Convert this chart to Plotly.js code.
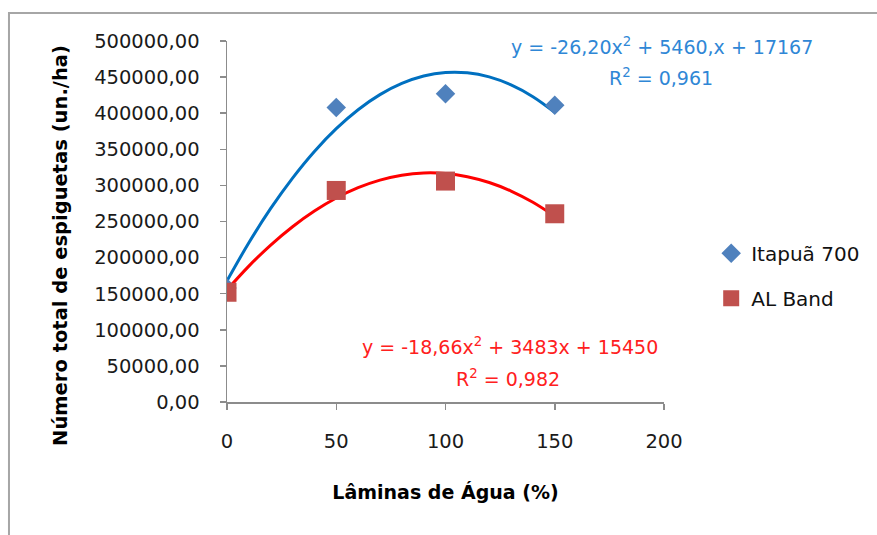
<!DOCTYPE html>
<html>
<head>
<meta charset="utf-8">
<script src="https://cdn.plot.ly/plotly-3.0.1.min.js"></script>
<style>
html,body{margin:0;padding:0;background:#fff;}
#chart{width:877px;height:535px;}
</style>
</head>
<body>
<div id="chart"></div>
<script>
// Data
const laminas = [0, 50, 100, 150];
const itapua700 = [158000, 408000, 427000, 411000];
const alBand = [152000, 293000, 306000, 260700];

// Trendline (polynomial, order 2) as drawn in the picture, sampled every 10 %
const curveX = [0, 10, 20, 30, 40, 50, 60, 70, 80, 90, 100, 110, 120, 130, 140, 150];
const itapuaTrend = [167800, 220600, 268100, 310200, 347100, 378600, 404800, 425700, 441200, 451500, 456400, 456000, 450300, 439200, 422900, 401200];
const alBandTrend = [155300, 188200, 217400, 242800, 264500, 282500, 296800, 307300, 314100, 317200, 316500, 312100, 304000, 292200, 276600, 257200];

const seriesNames = ["Itapuã 700", "AL Band"];
const xTitle = "Lâminas de Água (%)";
const yTitle = "Número total de espiguetas (un./ha)";
const eqItapua = "y = -26,20x<sup>2</sup> + 5460,x + 17167";
const r2Itapua = "R<sup>2</sup> = 0,961";
const eqAlBand = "y = -18,66x<sup>2</sup> + 3483x + 15450";
const r2AlBand = "R<sup>2</sup> = 0,982";

const FONT = "DejaVu Sans";

const traces = [
  {x: curveX, y: itapuaTrend, mode: "lines", line: {color: "#0070C0", width: 3, shape: "spline"}, showlegend: false, hoverinfo: "skip"},
  {x: curveX, y: alBandTrend, mode: "lines", line: {color: "#FF0000", width: 3, shape: "spline"}, showlegend: false, hoverinfo: "skip"},
  {x: laminas, y: itapua700, name: seriesNames[0], mode: "markers", legendgroup: "a",
   marker: {symbol: "diamond", size: 15, color: "#4F81BD"}},
  {x: laminas, y: alBand, name: seriesNames[1], mode: "markers", legendgroup: "b",
   marker: {symbol: "square", size: 19, color: "#C0504D"}}
];

const layout = {
  width: 877, height: 535,
  margin: {l: 227, r: 211, t: 41, b: 133},
  paper_bgcolor: "#ffffff", plot_bgcolor: "#ffffff",
  separators: ",.",
  font: {family: FONT, color: "#1a1a1a", size: 19.5},
  showlegend: true,
  legend: {x: 1.108, xanchor: "left", y: 0.466, yanchor: "top", tracegroupgap: 16,
           font: {family: FONT, size: 20, color: "#111111"}, bgcolor: "rgba(0,0,0,0)", itemsizing: "trace"},
  xaxis: {
    range: [0, 200], tickmode: "linear", tick0: 0, dtick: 50,
    showgrid: false, zeroline: false, showline: true, linecolor: "#8C8C8C", linewidth: 1.5,
    ticks: "outside", ticklen: 6, tickcolor: "#8C8C8C", tickwidth: 1.5,
    tickfont: {family: FONT, size: 19.5, color: "#1a1a1a"}, ticklabelstandoff: 15,
    title: {text: xTitle, font: {family: FONT, size: 19, color: "#000000", weight: "bold"}, standoff: 34}
  },
  yaxis: {
    range: [0, 500000], tickmode: "linear", tick0: 0, dtick: 50000, tickformat: ".2f",
    showgrid: false, zeroline: false, showline: true, linecolor: "#8C8C8C", linewidth: 1.5,
    ticks: "outside", ticklen: 6, tickcolor: "#8C8C8C", tickwidth: 1.5,
    tickfont: {family: FONT, size: 19.5, color: "#1a1a1a"}, ticklabelstandoff: 16,
    title: {text: ""}
  },
  annotations: [
    {xref: "paper", yref: "paper", x: -0.38, y: 0.435, text: yTitle, textangle: -90, showarrow: false,
     xanchor: "center", yanchor: "middle", font: {family: FONT, size: 19.5, color: "#000000", weight: "bold"}},
    {xref: "x", yref: "y", x: 199, y: 493000, text: eqItapua, showarrow: false, xanchor: "center", yanchor: "middle",
     font: {family: FONT, size: 19, color: "#2F87D6"}},
    {xref: "x", yref: "y", x: 198.4, y: 450000, text: r2Itapua, showarrow: false, xanchor: "center", yanchor: "middle",
     font: {family: FONT, size: 19, color: "#2F87D6"}},
    {xref: "x", yref: "y", x: 129.4, y: 77800, text: eqAlBand, showarrow: false, xanchor: "center", yanchor: "middle",
     font: {family: FONT, size: 19, color: "#FF2020"}},
    {xref: "x", yref: "y", x: 128.5, y: 33300, text: r2AlBand, showarrow: false, xanchor: "center", yanchor: "middle",
     font: {family: FONT, size: 19, color: "#FF2020"}}
  ],
  shapes: [
    {type: "rect", xref: "paper", yref: "paper", x0: -0.4989, x1: 1.7, y0: -0.6, y1: 1.0776,
     line: {color: "#A6A6A6", width: 2}, fillcolor: "rgba(0,0,0,0)", layer: "below"}
  ]
};

Plotly.newPlot("chart", traces, layout, {displayModeBar: false, staticPlot: true});
</script>
</body>
</html>
